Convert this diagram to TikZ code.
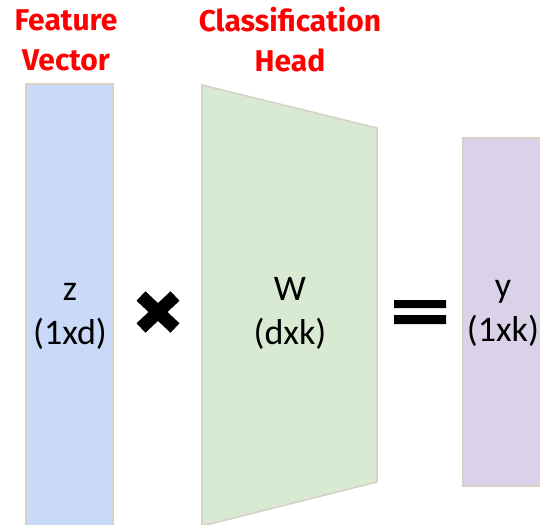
\documentclass[tikz,border=0pt]{standalone}
\usepackage{fontspec}
\setmainfont{Carlito}
\newfontfamily\headfont{Fira Sans}
\definecolor{vecblue}{HTML}{C9DAF8}
\definecolor{headgreen}{HTML}{D9EAD3}
\definecolor{outpurple}{HTML}{D9D2E9}
\definecolor{edgegray}{HTML}{D6D2C4}
\definecolor{headred}{HTML}{FF0000}
\begin{document}
\begin{tikzpicture}[x=1pt,y=-1pt,
  block/.style={draw=edgegray,line width=1.6pt},
  heading/.style={font=\headfont\bfseries\fontsize{30}{40}\selectfont,text=headred,align=center},
  dims/.style={font=\fontsize{36}{44}\selectfont,align=center}]
\useasboundingbox (0,0) rectangle (540,524);
% blocks
\begin{scope}
\clip (0,0) rectangle (540,524);
\draw[block,fill=vecblue] (26,84) rectangle (113,540);
\draw[block,fill=headgreen] (202,85) -- (377,128) -- (377,482) -- (202,526) -- cycle;
\draw[block,fill=outpurple] (463,138) rectangle (560,486);
\end{scope}
% headings
\node[heading] (fv) at (66,40) {Feature\\Vector};
\node[heading] (ch) at (290,40) {Classification\\Head};
% block labels
\node[dims] (z) at (70,316) {z\\(1xd)};
\node[dims] (w) at (290,313) {W\\(dxk)};
\node[dims] (y) at (503,313) {y\\(1xk)};
% multiplication sign
\coordinate (times) at (158,312);
\draw[line width=13pt,draw=black] ([shift={(-17,-16)}]times) -- ([shift={(17,16)}]times)
  ([shift={(17,-16)}]times) -- ([shift={(-17,16)}]times);
% equals sign
\coordinate (eq) at (420,312);
\fill[black] ([shift={(-26,-12)}]eq) rectangle ([shift={(26,-4)}]eq)
  ([shift={(-26,3)}]eq) rectangle ([shift={(26,12)}]eq);
\end{tikzpicture}
\end{document}
